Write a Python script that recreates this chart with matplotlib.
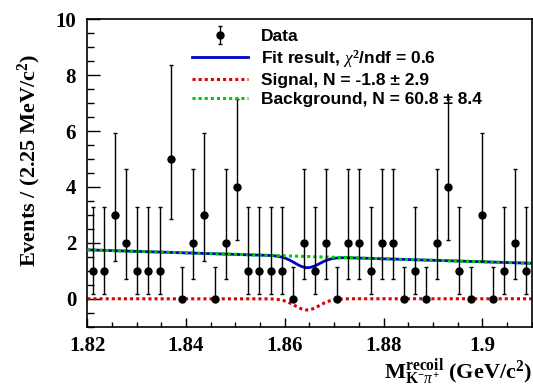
import numpy as np
import matplotlib
matplotlib.use("Agg")
import matplotlib.pyplot as plt
from matplotlib.ticker import MultipleLocator

# ---- data ----
x_lo, x_hi = 1.82, 1.91
bin_width = 0.00225
counts = [1, 1, 3, 2, 1, 1, 1, 5, 0, 2, 3, 0, 2, 4, 1, 1, 1, 1, 0, 2,
          1, 2, 0, 2, 2, 1, 2, 2, 0, 1, 0, 2, 4, 1, 0, 3, 0, 1, 2, 1]
# Poisson (68%) error bars per count value: (down, up)
poisson_err = {0: (0.0, 1.148), 1: (0.827, 2.300), 2: (1.292, 2.638),
               3: (1.633, 2.918), 4: (1.914, 3.162), 5: (2.159, 3.382)}
# background line read at the range edges
bkg_x = [1.82, 1.91]
bkg_y = [1.75, 1.27]
# signal shape (fitted, negative yield)
sig_mean = 1.8645
sig_sigma = 0.0025
sig_amp = -0.40

legend_labels = ["Data", r"Fit result, $\chi^{2}$/ndf = 0.6",
                 "Signal, N = -1.8 \u00b1 2.9", "Background, N = 60.8 \u00b1 8.4"]

plt.rcParams['mathtext.fontset'] = 'custom'
plt.rcParams['mathtext.rm'] = 'Liberation Serif:bold'
plt.rcParams['mathtext.it'] = 'Liberation Serif:italic'
plt.rcParams['mathtext.bf'] = 'Liberation Serif:bold'

fig = plt.figure(figsize=(5.33, 3.9), dpi=100)
ax = fig.add_axes([0.1638, 0.1623, 0.8337, 0.7882])

centers = x_lo + bin_width * (np.arange(len(counts)) + 0.5)
counts_a = np.array(counts, dtype=float)
err_lo = np.array([poisson_err[c][0] for c in counts])
err_hi = np.array([poisson_err[c][1] for c in counts])

xs = np.linspace(x_lo, x_hi, 600)
bkg = np.interp(xs, bkg_x, bkg_y)
sig = sig_amp * np.exp(-0.5 * ((xs - sig_mean) / sig_sigma) ** 2)
tot = bkg + sig

l_sig, = ax.plot(xs, sig, color='#dd0000', lw=2.2, ls=(0, (1, 1)), zorder=2)
l_bkg, = ax.plot(xs, bkg, color='#00cc00', lw=2.2, ls=(0, (1, 1)), zorder=3)
l_tot, = ax.plot(xs, tot, color='#0000cc', lw=2.0, zorder=2.5)

eb = ax.errorbar(centers, counts_a, yerr=[err_lo, err_hi], fmt='o', color='black',
                 ms=5, elinewidth=1.0, capsize=1.3, capthick=1.0, zorder=4)

ax.set_xlim(x_lo, x_hi)
ax.set_ylim(-1, 10)
ax.xaxis.set_major_locator(MultipleLocator(0.02))
ax.xaxis.set_minor_locator(MultipleLocator(0.005))
ax.yaxis.set_major_locator(MultipleLocator(2))
ax.yaxis.set_minor_locator(MultipleLocator(0.5))
ax.set_xticks([1.82, 1.84, 1.86, 1.88, 1.90])
ax.set_xticklabels(["1.82", "1.84", "1.86", "1.88", "1.9"])
ax.tick_params(axis='x', which='major', direction='in', length=6.7, width=1.0, pad=7)
ax.tick_params(axis='x', which='minor', direction='in', length=3.4, width=1.0)
ax.tick_params(axis='y', which='major', direction='in', length=9.4, width=1.0, pad=8)
ax.tick_params(axis='y', which='minor', direction='in', length=4.7, width=1.0)
for lab in ax.get_xticklabels() + ax.get_yticklabels():
    lab.set_fontfamily('Liberation Serif')
    lab.set_fontweight('bold')
    lab.set_fontsize(15)
for s in ax.spines.values():
    s.set_linewidth(1.2)

fig.text(0.055, 0.59, r"Events / (2.25 MeV/c$^{2}$)", rotation=90, ha='center', va='center',
         family='Liberation Serif', weight='bold', fontsize=16)
fig.text(0.998, 0.006, r"$\mathrm{M}^{\mathrm{recoil}}_{\mathrm{K}^{-}\pi^{+}}$ (GeV/c$^{\mathrm{2}}$)",
         ha='right', va='bottom', family='Liberation Serif', weight='bold', fontsize=16)

leg = ax.legend([eb, l_tot, l_sig, l_bkg], legend_labels, loc='upper left',
                bbox_to_anchor=(192 / 533, 1 - 29 / 390), bbox_transform=fig.transFigure,
                frameon=False, borderpad=0, borderaxespad=0, handlelength=3.2,
                handletextpad=0.75, labelspacing=0.2,
                prop={'family': 'Liberation Sans', 'weight': 'bold', 'size': 12.5})

fig.savefig("out.png", dpi=100)
